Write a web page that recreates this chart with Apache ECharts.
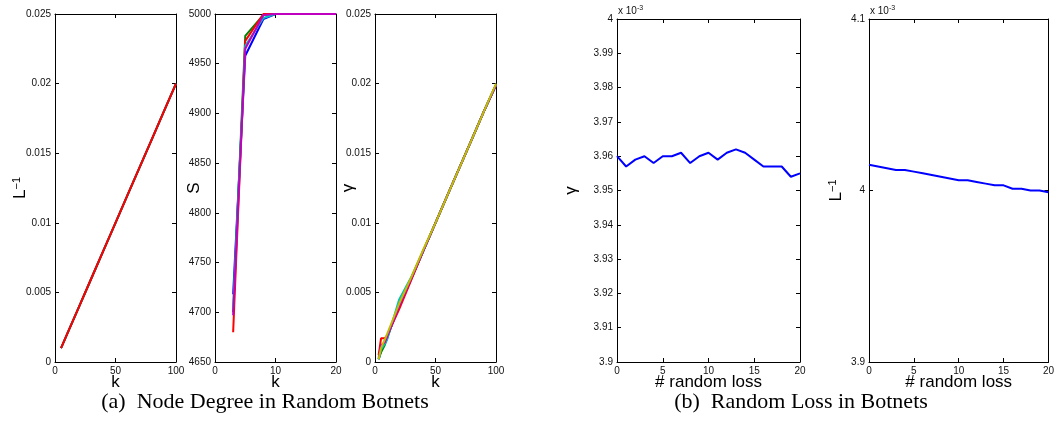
<!DOCTYPE html>
<html>
<head>
<meta charset="utf-8">
<script src="https://cdn.jsdelivr.net/npm/echarts@6/dist/echarts.min.js"></script>
<style>
html,body{margin:0;padding:0;background:#fff;}
#c{width:1057px;height:428px;}
</style>
</head>
<body>
<div id="c"></div>
<script>
// ---------- data ----------
// (a) panel 1: inverse path length vs k
const kA = [5, 10, 20, 30, 40, 50, 60, 70, 80, 90, 100];
const invL_blue  = [0.0010, 0.0020, 0.0040, 0.0060, 0.0080, 0.0100, 0.0120, 0.0140, 0.0160, 0.0180, 0.0200];
const invL_green = [0.0010, 0.0020, 0.0040, 0.0060, 0.0080, 0.0100, 0.0120, 0.0140, 0.0160, 0.0180, 0.0200];
const invL_red   = [0.0010, 0.0020, 0.0040, 0.0060, 0.0080, 0.0100, 0.0120, 0.0140, 0.0160, 0.0180, 0.0200];

// (a) panel 2: S vs k
const kS = [3, 5, 8, 10, 12, 14, 16, 18, 20];
const S_blue    = [4718, 4958, 4995, 5000, 5000, 5000, 5000, 5000, 5000];
const S_green   = [4700, 4978, 4999, 5000, 5000, 5000, 5000, 5000, 5000];
const S_red     = [4680, 4973, 5000, 5000, 5000, 5000, 5000, 5000, 5000];
const S_cyan    = [4705, 4968, 4996, 5000, 5000, 5000, 5000, 5000, 5000];
const S_magenta = [4697, 4965, 4999, 5000, 5000, 5000, 5000, 5000, 5000];

// (a) panel 3: gamma vs k
const kG = [3, 5, 8, 10, 20, 30, 40, 50, 60, 70, 80, 90, 100];
const G_blue    = [0.0002, 0.0008, 0.0014, 0.0018, 0.0040, 0.0060, 0.0080, 0.0100, 0.0120, 0.0140, 0.0160, 0.0180, 0.0199];
const G_green   = [0.0002, 0.0007, 0.0012, 0.0017, 0.0042, 0.0060, 0.0080, 0.0100, 0.0120, 0.0140, 0.0160, 0.0180, 0.0199];
const G_red     = [0.0005, 0.0017, 0.0017, 0.0019, 0.0038, 0.0059, 0.0080, 0.0100, 0.0120, 0.0140, 0.0160, 0.0180, 0.0199];
const G_cyan    = [0.0002, 0.0009, 0.0013, 0.0016, 0.0045, 0.0061, 0.0080, 0.0100, 0.0120, 0.0140, 0.0160, 0.0180, 0.0199];
const G_magenta = [0.0003, 0.0012, 0.0014, 0.0018, 0.0040, 0.0060, 0.0080, 0.0100, 0.0120, 0.0140, 0.0160, 0.0180, 0.0199];
const G_olive   = [0.0002, 0.0010, 0.0016, 0.0020, 0.0042, 0.0061, 0.0081, 0.0100, 0.0120, 0.0140, 0.0160, 0.0180, 0.0200];

// (b) random loss (values in units of 1e-3)
const lossX = [0,1,2,3,4,5,6,7,8,9,10,11,12,13,14,15,16,17,18,19,20];
const gammaLoss = [3.960,3.957,3.959,3.960,3.958,3.960,3.960,3.961,3.958,3.960,3.961,3.959,3.961,3.962,3.961,3.959,3.957,3.957,3.957,3.954,3.955];
const invLLoss  = [4.015,4.014,4.013,4.012,4.012,4.011,4.010,4.009,4.008,4.007,4.006,4.006,4.005,4.004,4.003,4.003,4.001,4.001,4.000,4.000,3.999];

// text
const captionA = '(a)  Node Degree in Random Botnets';
const captionB = '(b)  Random Loss in Botnets';

// ---------- helpers ----------
const C = {blue:'#0000ff', green:'#008000', red:'#ff0000', cyan:'#00bfbf', magenta:'#bf00bf', olive:'#bfbf00'};
const tickFont = {fontFamily:'Liberation Sans, Arial, sans-serif', fontSize:10, color:'#111'};
const nameFont = {fontFamily:'Liberation Sans, Arial, sans-serif', fontSize:17, color:'#000'};
const lineStyle = {color:'#000', width:1};
const plainNum = v => String(v);

const grids = [
  {left:55,  top:14, width:121, height:348},
  {left:215, top:14, width:121, height:348},
  {left:375, top:14, width:121, height:348},
  {left:617, top:19, width:183, height:343},
  {left:869, top:19, width:183, height:343}
];

const xAxes = [], yAxes = [];
function addAxes(gi, xr, yr, xName, yName, yGap, yRich) {
  xAxes.push({type:'value', gridIndex:gi, position:'bottom', min:xr[0], max:xr[1], interval:xr[2],
    axisLine:{show:true, onZero:false, lineStyle}, axisTick:{show:true, inside:true, length:4, lineStyle},
    axisLabel:Object.assign({show:true, margin:4, formatter:plainNum}, tickFont), splitLine:{show:false},
    name:xName, nameLocation:'middle', nameGap:12, nameMoveOverlap:false, nameTextStyle:nameFont});
  xAxes.push({type:'value', gridIndex:gi, position:'top', min:xr[0], max:xr[1], interval:xr[2],
    axisLine:{show:true, onZero:false, lineStyle}, axisTick:{show:true, inside:true, length:4, lineStyle},
    axisLabel:{show:false}, splitLine:{show:false}});
  yAxes.push({type:'value', gridIndex:gi, position:'left', min:yr[0], max:yr[1], interval:yr[2],
    axisLine:{show:true, onZero:false, lineStyle}, axisTick:{show:true, inside:true, length:4, lineStyle},
    axisLabel:Object.assign({show:true, margin:4, formatter:plainNum}, tickFont), splitLine:{show:false},
    name:yName, nameLocation:'middle', nameGap:yGap, nameRotate:90, nameMoveOverlap:false,
    nameTextStyle:Object.assign({}, nameFont, yRich ? {rich:yRich} : {})});
  yAxes.push({type:'value', gridIndex:gi, position:'right', min:yr[0], max:yr[1], interval:yr[2],
    axisLine:{show:true, onZero:false, lineStyle}, axisTick:{show:true, inside:true, length:4, lineStyle},
    axisLabel:{show:false}, splitLine:{show:false}});
}
const supRich = {
  a:{fontFamily:'Liberation Sans, Arial, sans-serif', fontSize:17, color:'#000'},
  b:{fontFamily:'Liberation Sans, Arial, sans-serif', fontSize:11, color:'#000', verticalAlign:'top', padding:[0,0,8,0]}
};
addAxes(0, [0,100,50], [0,0.025,0.005], 'k', '{a|L}{b|−1}', 25, supRich);
addAxes(1, [0,20,10], [4650,5000,50], 'k', 'S', 12, null);
addAxes(2, [0,100,50], [0,0.025,0.005], 'k', 'γ', 18, null);
addAxes(3, [0,20,5], [3.9,4.0,0.01], '# random loss', 'γ', 37, null);
addAxes(4, [0,20,5], [3.9,4.1,0.1], '# random loss', '{a|L}{b|−1}', 23, supRich);

const series = [];
function addLine(gi, xs, ys, color) {
  series.push({type:'line', xAxisIndex:gi*2, yAxisIndex:gi*2, data:xs.map((x,i)=>[x, ys[i]]),
    showSymbol:false, symbol:'none', lineStyle:{color, width:2}, itemStyle:{color}, animation:false, silent:true});
}
addLine(0, kA, invL_blue, C.blue);
addLine(0, kA, invL_green, C.green);
addLine(0, kA, invL_red, C.red);
addLine(1, kS, S_blue, C.blue);
addLine(1, kS, S_green, C.green);
addLine(1, kS, S_red, C.red);
addLine(1, kS, S_cyan, C.cyan);
addLine(1, kS, S_magenta, C.magenta);
addLine(2, kG, G_blue, C.blue);
addLine(2, kG, G_green, C.green);
addLine(2, kG, G_red, C.red);
addLine(2, kG, G_cyan, C.cyan);
addLine(2, kG, G_magenta, C.magenta);
addLine(2, kG, G_olive, C.olive);
addLine(3, lossX, gammaLoss, C.blue);
addLine(4, lossX, invLLoss, C.blue);

const expRich = {
  a:{fontFamily:'Liberation Sans, Arial, sans-serif', fontSize:10, fill:'#111', color:'#111'},
  b:{fontFamily:'Liberation Sans, Arial, sans-serif', fontSize:7, fill:'#111', color:'#111', verticalAlign:'top', padding:[0,0,6,0]}
};
const capFont = {fontFamily:'Liberation Serif, Times New Roman, serif', fontSize:22, fontWeight:'normal', color:'#000'};

const option = {
  backgroundColor:'#fff',
  animation:false,
  grid: grids.map(g => Object.assign({containLabel:false}, g)),
  xAxis: xAxes,
  yAxis: yAxes,
  series,
  title: [
    {text:captionA, left:265, top:391, textAlign:'center', textStyle:capFont, padding:0},
    {text:captionB, left:801, top:391, textAlign:'center', textStyle:capFont, padding:0}
  ],
  graphic: [
    {type:'text', left:618, top:5, style:{text:'{a|x 10}{b|-3}', rich:expRich, fill:'#111'}},
    {type:'text', left:870, top:5, style:{text:'{a|x 10}{b|-3}', rich:expRich, fill:'#111'}}
  ]
};
const chart = echarts.init(document.getElementById('c'), null, {renderer:'canvas'});
chart.setOption(option);
</script>
</body>
</html>
